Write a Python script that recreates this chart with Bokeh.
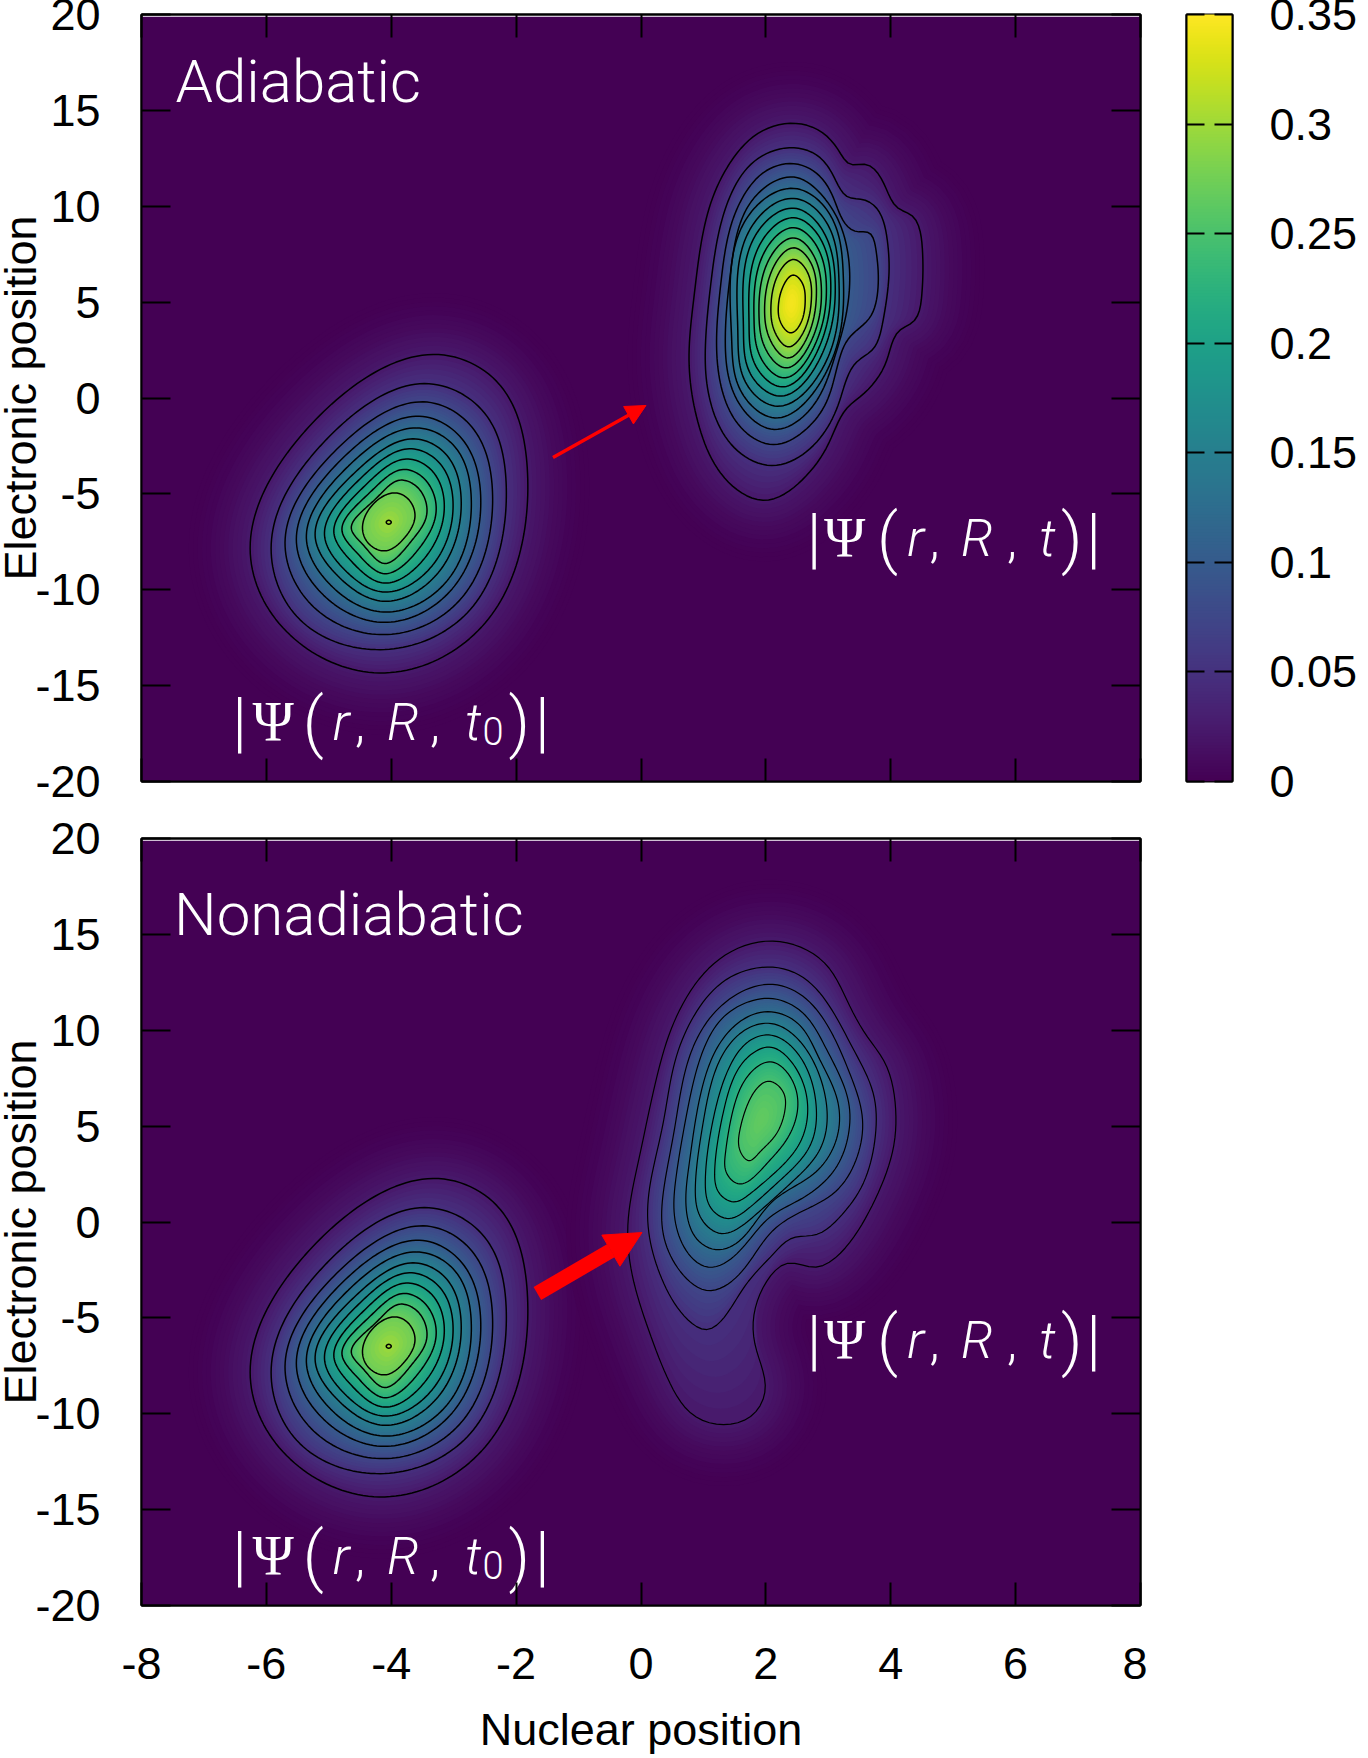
import numpy as np
from bokeh.plotting import figure
from bokeh.layouts import column, row
from bokeh.models import LinearAxis, FixedTicker, Arrow, NormalHead
from bokeh.palettes import Viridis256
from bokeh.core.properties import value
from bokeh.embed import file_html
from bokeh.resources import INLINE

# ---- values ----
X_TICKS = [-8, -6, -4, -2, 0, 2, 4, 6, 8]
Y_TICKS = [-20, -15, -10, -5, 0, 5, 10, 15, 20]
CBAR_TICKS = [0, 0.05, 0.1, 0.15, 0.2, 0.25, 0.3, 0.35]
CBAR_LABELS = ["0", "0.05", "0.1", "0.15", "0.2", "0.25", "0.3", "0.35"]
VMAX = 0.35
LEVELS = [0.025, 0.05, 0.075, 0.1, 0.125, 0.15, 0.175, 0.2, 0.225, 0.25, 0.275, 0.3, 0.325]

# traced contours, one list per level, each clockwise starting at the top
LEFT_PACKET = [
 [(-3.33,2.27),(-2.29,0.79),(-1.82,-3.73),(-2.43,-11.47),(-4.16,-14.34),(-5.73,-12.0),(-6.26,-7.73),(-5.31,-1.47)],
 [(-3.47,0.75),(-2.53,-0.69),(-2.16,-4.43),(-2.69,-10.86),(-4.13,-13.12),(-5.49,-11.47),(-5.92,-7.47),(-5.09,-2.34)],
 [(-3.49,-0.20),(-2.72,-1.47),(-2.38,-4.78),(-2.85,-10.34),(-4.11,-12.34),(-5.28,-10.78),(-5.70,-7.38),(-4.93,-2.86)],
 [(-3.55,-0.95),(-2.88,-2.08),(-2.57,-4.95),(-2.99,-9.82),(-4.11,-11.70),(-5.12,-10.17),(-5.52,-7.30),(-4.80,-3.21)],
 [(-3.60,-1.56),(-2.99,-2.51),(-2.72,-5.12),(-3.09,-9.47),(-4.11,-11.16),(-4.98,-9.73),(-5.36,-7.21),(-4.69,-3.56)],
 [(-3.65,-2.13),(-3.12,-2.95),(-2.88,-5.30),(-3.23,-9.04),(-4.11,-10.60),(-4.85,-9.30),(-5.22,-7.12),(-4.59,-3.91)],
 [(-3.71,-2.65),(-3.23,-3.38),(-3.01,-5.47),(-3.33,-8.69),(-4.11,-10.12),(-4.75,-8.95),(-5.07,-7.07),(-4.51,-4.25)],
 [(-3.76,-3.18),(-3.34,-3.82),(-3.15,-5.65),(-3.44,-8.25),(-4.11,-9.65),(-4.64,-8.51),(-4.92,-6.95),(-4.43,-4.60)],
 [(-3.81,-3.73),(-3.46,-4.25),(-3.28,-5.82),(-3.56,-7.87),(-4.11,-9.16),(-4.54,-8.11),(-4.79,-6.86),(-4.35,-4.95)],
 [(-3.87,-4.29),(-3.57,-4.69),(-3.43,-6.03),(-3.68,-7.47),(-4.11,-8.63),(-4.44,-7.70),(-4.64,-6.77),(-4.25,-5.26)],
 [(-3.94,-4.95),(-3.72,-5.30),(-3.62,-6.17),(-3.79,-7.30),(-4.10,-7.97),(-4.37,-7.56),(-4.46,-6.69),(-4.27,-5.47)],
 [(-4.04,-6.38),(-4.00,-6.48),(-4.04,-6.58),(-4.08,-6.48)],
]
LEFT_PEAK = (-4.04, -6.48, 0.302)

ADIABATIC_PACKET = [
 [(2.48,14.32),(2.91,13.83),(3.17,12.88),(3.36,12.18),(3.60,12.18),(3.87,11.31),(4.11,9.92),(4.35,9.48),(4.51,7.57),(4.50,5.49),(4.37,4.01),(4.13,3.49),(3.92,1.83),(3.55,0.18),(3.28,-0.60),(3.01,-2.34),(2.64,-4.08),(2.00,-5.33),(1.36,-4.25),(0.93,-1.47),(0.77,1.83),(0.85,5.31),(1.07,9.66),(1.41,12.18),(1.89,13.83)],
 [(2.45,13.05),(2.80,12.70),(3.07,11.66),(3.31,10.49),(3.55,10.35),(3.79,9.83),(3.95,8.09),(3.97,6.35),(3.87,3.92),(3.71,2.53),(3.44,1.83),(3.17,-0.25),(2.75,-2.51),(2.11,-3.52),(1.47,-2.51),(1.09,0.10),(1.03,2.53),(1.12,6.01),(1.33,9.66),(1.73,12.09),(2.11,12.88)],
 [(2.45,12.22),(2.80,11.75),(3.07,10.53),(3.28,9.05),(3.47,8.67),(3.65,8.62),(3.77,7.57),(3.80,6.01),(3.68,4.27),(3.47,3.57),(3.28,2.88),(3.01,0.10),(2.64,-1.64),(2.13,-2.43),(1.63,-1.64),(1.31,0.27),(1.21,2.88),(1.28,6.01),(1.49,9.48),(1.89,11.57),(2.16,12.09)],
 [(2.45,11.52),(2.91,10.53),(3.20,8.96),(3.34,6.70),(3.28,4.27),(3.09,2.01),(2.75,-0.43),(2.13,-1.64),(1.55,-0.17),(1.35,2.88),(1.44,6.70),(1.79,10.35)],
 [(2.45,10.93),(3.04,9.49),(3.24,6.36),(3.06,2.01),(2.16,-1.04),(1.60,0.36),(1.45,3.22),(1.65,9.14)],
 [(2.45,10.41),(2.99,9.05),(3.17,6.18),(2.99,2.09),(2.19,-0.43),(1.68,0.79),(1.55,3.57),(1.73,8.70)],
 [(2.45,9.90),(2.93,8.62),(3.11,6.01),(2.92,2.44),(2.24,0.10),(1.76,1.22),(1.64,3.75),(1.81,8.35)],
 [(2.45,9.40),(2.88,8.27),(3.04,5.83),(2.86,2.70),(2.27,0.58),(1.84,1.66),(1.73,3.92),(1.89,7.92)],
 [(2.45,8.88),(2.83,7.83),(2.97,5.66),(2.80,2.88),(2.29,1.05),(1.92,2.09),(1.81,4.09),(1.97,7.57)],
 [(2.45,8.35),(2.77,7.40),(2.89,5.57),(2.75,3.14),(2.32,1.57),(2.00,2.53),(1.89,4.27),(2.05,7.22)],
 [(2.45,7.83),(2.72,7.05),(2.81,5.49),(2.67,3.22),(2.35,2.09),(2.08,2.96),(1.98,4.44),(2.13,6.88)],
 [(2.45,7.22),(2.67,6.53),(2.73,5.22),(2.61,3.49),(2.36,2.67),(2.15,3.40),(2.08,4.62),(2.21,6.53)],
 [(2.44,6.41),(2.58,6.01),(2.63,5.14),(2.56,3.92),(2.40,3.40),(2.24,3.92),(2.20,4.79),(2.29,5.92)],
]
ADIABATIC_PEAK = (2.41, 4.95, 0.345)

NONADIABATIC_PACKET = [
 [(2.11,14.65),(2.64,14.21),(3.01,13.25),(3.28,11.69),(3.60,9.78),(3.92,8.21),(4.08,5.78),(4.03,3.69),(3.71,0.91),(3.17,-1.70),(2.77,-2.36),(2.37,-2.14),(2.05,-2.92),(1.81,-4.83),(1.84,-6.57),(1.99,-8.66),(1.79,-10.05),(1.33,-10.57),(0.83,-10.05),(0.45,-8.31),(0.13,-5.70),(-0.13,-2.92),(-0.21,-0.14),(-0.03,3.34),(0.29,8.04),(0.56,10.65),(1.04,13.08),(1.57,14.30)],
 [(2.11,13.29),(2.64,12.65),(3.07,10.99),(3.39,9.08),(3.71,6.82),(3.76,4.73),(3.55,1.95),(3.17,0.21),(2.80,-0.66),(2.43,-0.83),(2.11,-1.70),(1.68,-3.27),(1.25,-5.27),(1.04,-5.61),(0.72,-5.00),(0.35,-3.09),(0.13,-0.66),(0.13,1.60),(0.35,5.08),(0.56,8.56),(0.93,11.17),(1.41,12.73)],
 [(2.11,12.39),(2.59,11.78),(3.01,10.12),(3.33,7.86),(3.54,5.60),(3.49,3.69),(3.12,1.60),(2.48,0.39),(2.05,-0.66),(1.57,-2.74),(1.09,-3.58),(0.72,-2.92),(0.37,-0.83),(0.36,1.60),(0.53,4.73),(0.77,8.56),(1.15,10.82),(1.63,12.04)],
 [(2.11,11.65),(2.59,10.91),(2.96,9.08),(3.31,6.47),(3.33,4.73),(3.12,2.82),(2.59,1.25),(2.05,0.21),(1.52,-1.70),(1.09,-2.36),(0.77,-1.70),(0.54,0.21),(0.56,2.30),(0.72,5.43),(0.99,8.91),(1.31,10.65),(1.68,11.43)],
 [(2.09,10.96),(2.53,10.30),(2.85,8.56),(3.15,6.30),(3.12,4.21),(2.75,2.47),(2.11,1.08),(1.57,-1.00),(1.20,-1.44),(0.88,-0.83),(0.72,0.91),(0.77,2.99),(0.93,6.30),(1.25,9.25),(1.68,10.65)],
 [(2.09,10.35),(2.59,9.25),(2.98,5.78),(2.85,3.69),(2.43,2.12),(1.84,0.39),(1.28,-0.60),(0.96,0.21),(0.87,1.78),(0.99,5.08),(1.28,8.56),(1.68,10.04)],
 [(2.09,9.74),(2.56,8.56),(2.81,5.78),(2.69,3.87),(2.21,2.12),(1.73,0.73),(1.39,0.18),(1.12,0.73),(1.03,2.12),(1.15,5.26),(1.41,8.04),(1.73,9.43)],
 [(2.09,9.11),(2.51,7.86),(2.67,5.78),(2.53,4.04),(2.11,2.47),(1.73,1.43),(1.49,1.05),(1.25,1.52),(1.18,2.65),(1.31,5.60),(1.57,8.04),(1.84,8.91)],
 [(2.08,8.35),(2.40,7.52),(2.51,5.95),(2.35,4.39),(2.00,2.99),(1.57,1.99),(1.37,2.56),(1.35,3.52),(1.47,5.78),(1.73,7.69)],
 [(2.05,7.34),(2.27,6.82),(2.31,5.95),(2.16,4.56),(1.89,3.60),(1.73,3.20),(1.59,3.69),(1.58,4.73),(1.73,6.30),(1.89,7.08)],
]
NONADIABATIC_PEAK = (1.92, 5.3, 0.265)

# ---- drawing helpers ----
ASPECT = 62.5 / 19.175   # one x unit measured in y units on the page
N = 170
SUB = 6
TEXT_LIFT = 1.1          # glyph baseline correction, in y units
LIGHT = "Roboto Light"

def cm(v):
    return Viridis256[min(255, max(0, int(round(v / VMAX * 255))))]

def smooth_ring(pts):
    """closed C2 cubic spline through a traced contour, evenly resampled"""
    p = np.array(pts, float) * [ASPECT, 1.0]
    n = len(p)
    h = np.linalg.norm(np.roll(p, -1, axis=0) - p, axis=1) ** 0.75
    A = np.zeros((n, n))
    B = np.zeros((n, 2))
    for i in range(n):
        im = (i - 1) % n
        ip = (i + 1) % n
        A[i, im] += h[im]
        A[i, i] += 2 * (h[im] + h[i])
        A[i, ip] += h[i]
        B[i] = 6 * ((p[ip] - p[i]) / h[i] - (p[i] - p[im]) / h[im])
    M = np.linalg.solve(A, B)
    out = []
    for i in range(n):
        ip = (i + 1) % n
        for t in np.linspace(0, h[i], 24, endpoint=False):
            a, b = h[i] - t, t
            out.append(M[i] * a ** 3 / (6 * h[i]) + M[ip] * b ** 3 / (6 * h[i])
                       + (p[i] / h[i] - M[i] * h[i] / 6) * a + (p[ip] / h[i] - M[ip] * h[i] / 6) * b)
    c = np.array(out)
    c = np.vstack([c, c[0]])
    s = np.r_[0, np.cumsum(np.hypot(*np.diff(c, axis=0).T))]
    u = np.linspace(0, s[-1], N, endpoint=False)
    return np.c_[np.interp(u, s, c[:, 0]), np.interp(u, s, c[:, 1])]

def outward(ring, d):
    """the ring moved outward by d (scaled units): the fade to the background"""
    tang = np.roll(ring, -2, axis=0) - np.roll(ring, 2, axis=0)
    nrm = np.c_[-tang[:, 1], tang[:, 0]]   # left of travel is outside for a clockwise ring
    nrm /= np.hypot(nrm[:, 0], nrm[:, 1])[:, None]
    return ring + nrm * d

def draw_packet(p, rings, peak, lw):
    sm = [smooth_ring(r) for r in rings]
    xs, ys, cols = [], [], []
    def add(poly, v):
        xs.append(list(poly[:, 0] / ASPECT))
        ys.append(list(poly[:, 1]))
        cols.append(cm(v))
    # fade outside the first contour
    for t in np.linspace(0, 1, 14, endpoint=False):
        add(outward(sm[0], 3.2 * (1 - t)), LEVELS[0] * t ** 1.6)
    # between contours
    for i in range(len(sm) - 1):
        for t in np.linspace(0, 1, SUB, endpoint=False):
            add((1 - t) * sm[i] + t * sm[i + 1], LEVELS[i] + t * (LEVELS[i + 1] - LEVELS[i]))
    # inside the last contour, up to the peak
    c = np.array([peak[0] * ASPECT, peak[1]])
    last = LEVELS[len(sm) - 1]
    for t in np.linspace(0, 1, 6, endpoint=False):
        add(c + (sm[-1] - c) * (1 - t), peak[2] - (peak[2] - last) * (1 - t) ** 2)
    p.patches(xs, ys, fill_color=cols, line_color=None)
    lx = [list(np.r_[r[:, 0], r[0, 0]] / ASPECT) for r in sm]
    ly = [list(np.r_[r[:, 1], r[0, 1]]) for r in sm]
    p.multi_line(lx, ly, line_color="black", line_width=lw)

def panel(height, top, bottom, with_x_labels):
    p = figure(width=1155, height=height, x_range=(-8, 8), y_range=(-20, 20),
               toolbar_location=None, output_backend="svg",
               min_border_left=148, min_border_right=7, min_border_top=top, min_border_bottom=bottom,
               background_fill_color="white", border_fill_color="white",
               outline_line_color="black", outline_line_width=2)
    p.grid.visible = False
    for ax, ticks, tl in ((p.xaxis[0], X_TICKS, 23), (p.yaxis[0], Y_TICKS, 29)):
        ax.ticker = FixedTicker(ticks=ticks)
        ax.major_label_overrides = {t: str(t) for t in ticks}
        ax.major_tick_in, ax.major_tick_out = tl, 0
        ax.minor_tick_line_color = None
        ax.major_tick_line_width = 2
        ax.axis_line_width = 2
        ax.major_label_text_font = "Liberation Sans"
        ax.major_label_text_font_size = "45px"
        ax.major_label_text_color = "black"
        ax.axis_label_text_font = "Liberation Sans"
        ax.axis_label_text_font_size = "45px"
        ax.axis_label_text_font_style = "normal"
        ax.axis_label_text_color = "black"
    p.yaxis[0].major_label_standoff = 41
    p.yaxis[0].axis_label = "Electronic position"
    p.yaxis[0].axis_label_standoff = -14
    if with_x_labels:
        p.xaxis[0].major_label_standoff = 42
        p.xaxis[0].axis_label = "Nuclear position"
        p.xaxis[0].axis_label_standoff = 22
    else:
        p.xaxis[0].major_label_text_font_size = "1px"
        p.xaxis[0].major_label_text_color = None
        p.xaxis[0].major_label_standoff = 0
    for loc, ticks, tl in (("above", X_TICKS, 23), ("right", Y_TICKS, 29)):
        a = LinearAxis(ticker=FixedTicker(ticks=ticks), major_tick_in=tl, major_tick_out=0,
                       minor_tick_line_color=None, major_tick_line_width=2, axis_line_width=2,
                       major_label_text_font_size="1px", major_label_text_color=None, major_label_standoff=0)
        p.add_layout(a, loc)
    # field background stops just under the top edge, leaving the thin white line
    p.quad(left=[-8], right=[8], bottom=[-20], top=[19.88], fill_color=cm(0), line_color=None)
    return p

def texts(p, items):
    for x, y, s, font, size, style in items:
        p.text([x], [y + TEXT_LIFT], text=[s], text_font=value(font), text_font_size=size,
               text_font_style=style, text_color="white", text_align="center",
               text_baseline="alphabetic")

def psi_label(p, y, left):
    S, I, G = LIGHT, "normal", "Liberation Serif"
    if left:
        items = [(-6.43, y, "|", S, "66px", I), (-5.89, y, "Ψ", G, "56px", I), (-5.25, y, "(", S, "66px", I),
                 (-4.80, y, "r", S, "52px", "italic"), (-4.50, y, ",", S, "52px", I),
                 (-3.81, y, "R", S, "52px", "italic"), (-3.30, y, ",", S, "52px", I),
                 (-2.69, y, "t", S, "52px", "italic"), (-2.37, y - 0.47, "0", S, "38px", I),
                 (-1.95, y, ")", S, "66px", I), (-1.58, y, "|", S, "66px", I)]
    else:
        items = [(2.77, y, "|", S, "66px", I), (3.26, y, "Ψ", G, "56px", I), (3.95, y, "(", S, "66px", I),
                 (4.40, y, "r", S, "52px", "italic"), (4.70, y, ",", S, "52px", I),
                 (5.38, y, "R", S, "52px", "italic"), (5.94, y, ",", S, "52px", I),
                 (6.51, y, "t", S, "52px", "italic"), (6.90, y, ")", S, "66px", I), (7.25, y, "|", S, "66px", I)]
    texts(p, items)

# ---- top panel ----
p1 = panel(809, 22, 20, False)
draw_packet(p1, LEFT_PACKET, LEFT_PEAK, 1.5)
draw_packet(p1, ADIABATIC_PACKET, ADIABATIC_PEAK, 1.5)
p1.add_layout(Arrow(end=NormalHead(size=20, fill_color="#ff0000", line_color="#ff0000"),
                    x_start=-1.41, y_start=-3.10, x_end=0.08, y_end=-0.39,
                    line_color="#ff0000", line_width=3.5))
texts(p1, [(-7.41 + 1.92, 15.41, "Adiabatic", LIGHT, "60px", "normal")])
psi_label(p1, -18.02, True)
psi_label(p1, -8.42, False)

# ---- bottom panel ----
p2 = panel(956, 37, 152, True)
draw_packet(p2, LEFT_PACKET, LEFT_PEAK, 1.5)
draw_packet(p2, NONADIABATIC_PACKET, NONADIABATIC_PEAK, 1.2)
p2.add_layout(Arrow(end=NormalHead(size=36, fill_color="#ff0000", line_color="#ff0000"),
                    x_start=-1.66, y_start=-3.73, x_end=0.016, y_end=-0.55,
                    line_color="#ff0000", line_width=15))
texts(p2, [(-7.41 + 2.73, 14.94, "Nonadiabatic", LIGHT, "60px", "normal")])
psi_label(p2, -18.54, True)
psi_label(p2, -7.27, False)

# ---- colour bar ----
cb = figure(width=213, height=809, x_range=(0, 1), y_range=(0, VMAX), toolbar_location=None,
            output_backend="svg", x_axis_type=None, y_axis_location="right",
            min_border_left=39, min_border_right=125, min_border_top=22, min_border_bottom=20,
            background_fill_color="white", border_fill_color="white",
            outline_line_color="black", outline_line_width=2)
cb.grid.visible = False
edges = np.linspace(0, VMAX, 257)
cb.quad(left=0, right=1, bottom=edges[:-1], top=edges[1:] + VMAX / 500, fill_color=list(Viridis256), line_color=None)
r_ax = cb.yaxis[0]
r_ax.ticker = FixedTicker(ticks=CBAR_TICKS)
r_ax.major_label_overrides = dict(zip(CBAR_TICKS, CBAR_LABELS))
r_ax.major_tick_in, r_ax.major_tick_out = 18, 0
r_ax.minor_tick_line_color = None
r_ax.major_tick_line_width = 2
r_ax.axis_line_width = 2
r_ax.major_label_standoff = 37
r_ax.major_label_text_font = "Liberation Sans"
r_ax.major_label_text_font_size = "45px"
r_ax.major_label_text_color = "black"
l_ax = LinearAxis(ticker=FixedTicker(ticks=CBAR_TICKS), major_tick_in=18, major_tick_out=0,
                  minor_tick_line_color=None, major_tick_line_width=2, axis_line_width=2,
                  major_label_text_font_size="1px", major_label_text_color=None, major_label_standoff=0)
cb.add_layout(l_ax, "left")

page = row(column(p1, p2, spacing=0), cb, spacing=0, margin=(-8, 0, -8, -8))
open("out.html", "w").write(file_html(page, INLINE))
